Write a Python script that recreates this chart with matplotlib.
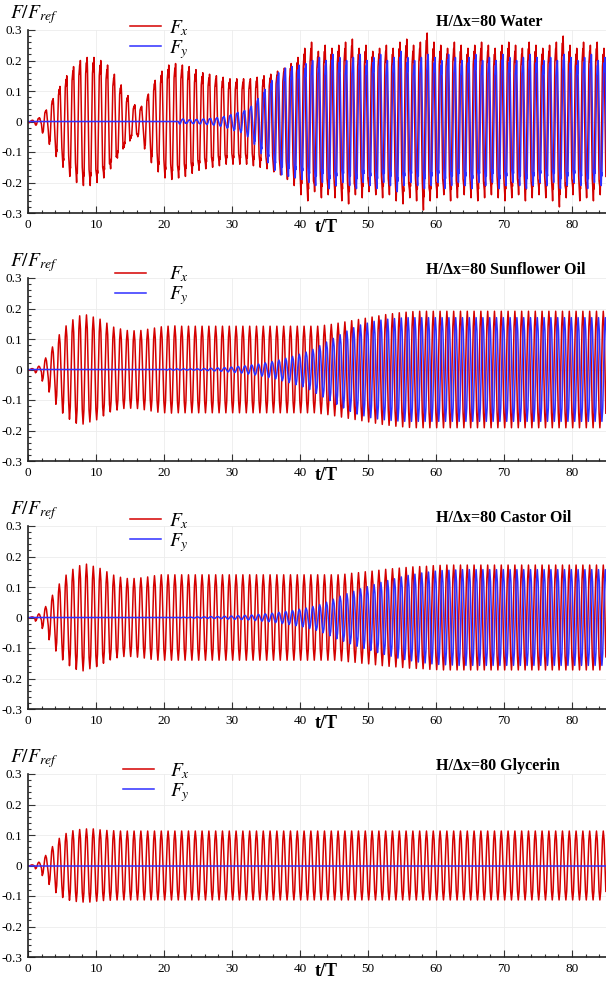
import numpy as np
import matplotlib
import matplotlib.pyplot as plt
from matplotlib.ticker import MultipleLocator, FixedLocator

matplotlib.use('agg')
plt.rcParams['font.family'] = ['Liberation Serif', 'DejaVu Serif']
plt.rcParams['mathtext.fontset'] = 'stix'
plt.rcParams['axes.unicode_minus'] = False

# peak amplitude of every forcing cycle (t/T = 0..84)
WATER_FX = ([0.004, 0.012, 0.038, 0.075, 0.115, 0.15, 0.18, 0.2, 0.21, 0.21, 0.2, 0.185,
             0.155, 0.12, 0.085, 0.055, 0.05, 0.09, 0.135, 0.165, 0.185,
             0.19, 0.185, 0.18, 0.17, 0.16, 0.155, 0.15, 0.145, 0.14,
             0.14, 0.14, 0.14, 0.145, 0.15, 0.155,
             0.165, 0.175, 0.19, 0.21,
             0.24, 0.26, 0.23, 0.25, 0.24, 0.25, 0.26, 0.27, 0.24, 0.25,
             0.23, 0.24, 0.25, 0.24, 0.26, 0.27, 0.25, 0.26, 0.29, 0.26,
             0.25, 0.24, 0.26, 0.25, 0.24, 0.25, 0.26, 0.25, 0.24, 0.25,
             0.26, 0.25, 0.24, 0.26, 0.25, 0.24, 0.25, 0.26, 0.28, 0.25,
             0.24, 0.26, 0.25, 0.26, 0.24])
WATER_FY = ([0.0] * 22 +
            [0.008, 0.006, 0.007, 0.008, 0.01, 0.012, 0.016, 0.022, 0.03, 0.036,
             0.05, 0.075, 0.105, 0.135, 0.16, 0.175, 0.18, 0.185] +
            [0.19, 0.2, 0.21, 0.2, 0.22, 0.21, 0.2, 0.21, 0.22, 0.2,
             0.21, 0.22, 0.2, 0.21, 0.23, 0.21, 0.2, 0.21, 0.22, 0.21,
             0.2, 0.22, 0.21, 0.2, 0.21, 0.22, 0.2, 0.21, 0.2, 0.22,
             0.21, 0.2, 0.21, 0.22, 0.21, 0.2, 0.21, 0.2, 0.22, 0.21,
             0.2, 0.21, 0.22, 0.2, 0.21])

SUNFLOWER_FX = ([0.003, 0.011, 0.038, 0.074, 0.114, 0.143, 0.163, 0.176, 0.179, 0.172,
                 0.165, 0.152, 0.139, 0.133, 0.128, 0.127, 0.128, 0.132, 0.136, 0.14,
                 0.142, 0.143] +
                [0.142] * 21 +
                [0.145, 0.148, 0.152, 0.156, 0.16, 0.164, 0.168, 0.172, 0.176, 0.18,
                 0.183, 0.186, 0.188, 0.19] +
                [0.191] * 28)
SUNFLOWER_FY = ([0.0] * 20 + [0.002] * 5 +
                [0.003, 0.004, 0.005, 0.006, 0.008, 0.01, 0.012, 0.015, 0.018, 0.022,
                 0.026, 0.031, 0.037, 0.043, 0.05, 0.057, 0.066, 0.078, 0.09, 0.102,
                 0.114, 0.126, 0.137, 0.146, 0.152, 0.158, 0.162, 0.165, 0.167, 0.169] +
                [0.17] * 30)

CASTOR_FX = ([0.002, 0.012, 0.036, 0.073, 0.11, 0.139, 0.158, 0.17, 0.175, 0.168,
              0.161, 0.15, 0.139, 0.132, 0.128, 0.128, 0.13, 0.133, 0.137, 0.14] +
             [0.14] * 26 +
             [0.142, 0.145, 0.147, 0.15, 0.152, 0.155, 0.158, 0.16, 0.162, 0.164,
              0.166, 0.167, 0.168, 0.17, 0.171] +
             [0.172] * 24)
CASTOR_FY = ([0.0] * 22 +
             [0.001, 0.001, 0.002, 0.002, 0.003, 0.003, 0.004, 0.005, 0.006, 0.007,
              0.008, 0.01, 0.012, 0.014, 0.017, 0.02, 0.023, 0.027, 0.031, 0.036,
              0.042, 0.05, 0.06, 0.07, 0.078, 0.086, 0.094, 0.101, 0.108, 0.115,
              0.121, 0.127, 0.133, 0.138, 0.142, 0.146, 0.149, 0.152, 0.154, 0.155,
              0.156] +
             [0.157] * 22)

GLYCERIN_FX = ([0.002, 0.011, 0.033, 0.062, 0.089, 0.105, 0.114, 0.118, 0.12, 0.12,
                0.117, 0.115, 0.114] + [0.113] * 72)
GLYCERIN_FY = [0.0] * 85

# shape of one cycle (phase within the period, value / amplitude)
SMOOTH_PHASE = [0.0, 0.12, 0.38, 0.5, 0.62, 0.88]
SMOOTH_VALUE = [-1.0, -0.75, 0.75, 1.0, 0.75, -0.75]
WATER_PHASE = [0.0, 0.05, 0.1, 0.15, 0.38, 0.5, 0.55, 0.6, 0.65, 0.88]
WATER_VALUE = [-0.9, -1.0, -0.8, -0.85, 0.75, 0.92, 0.78, 1.0, 0.8, -0.75]

FX_START = 0.1
FY_LAG = [0.15, 0.3, 0.3, 0.3]

TITLES = ['H/Δx=80 Water', 'H/Δx=80 Sunflower Oil', 'H/Δx=80 Castor Oil', 'H/Δx=80 Glycerin']
XTICKS = [0, 10, 20, 30, 40, 50, 60, 70, 80]
YTICKS = [-0.3, -0.2, -0.1, 0, 0.1, 0.2, 0.3]
YTICKLABELS = ['-0.3', '-0.2', '-0.1', '0', '0.1', '0.2', '0.3']


def signal(amp, start, phase, value):
    t = [0.0]
    f = [0.0]
    for k, a in enumerate(amp):
        for p, s in zip(phase, value):
            t.append(start + k + p)
            f.append(a * s)
    return np.array(t), np.array(f)


W, H = 606, 985
fig = plt.figure(figsize=(W / 100, H / 100), dpi=100)

panels = [(WATER_FX, WATER_FY), (SUNFLOWER_FX, SUNFLOWER_FY),
          (CASTOR_FX, CASTOR_FY), (GLYCERIN_FX, GLYCERIN_FY)]
tops = [30, 278, 526, 774]
legend_x = [130, 115, 130, 123]
legend_pad = [0.4, 1.2, 0.4, 0.8]
legend_y = [39.4, 286, 532.5, 782.5]
title_x = [436, 426, 436, 436]

for i, (fx, fy) in enumerate(panels):
    top = tops[i]
    ax = fig.add_axes([28 / W, 1 - (top + 183) / H, 578 / W, 183 / H])
    if i == 0:
        ph, va = WATER_PHASE, WATER_VALUE
    else:
        ph, va = SMOOTH_PHASE, SMOOTH_VALUE
    tx, vx = signal(fx, FX_START, ph, va)
    ty, vy = signal(fy, FX_START + FY_LAG[i], ph, va)
    ax.plot(tx, vx, color='#d40000', lw=1.1, label='$F_x$')
    ax.plot(ty, vy, color='#2f2fff', lw=1.1, label='$F_y$')

    ax.set_xlim(0, 85)
    ax.set_ylim(-0.3, 0.3)
    ax.xaxis.set_major_locator(FixedLocator(XTICKS))
    ax.xaxis.set_minor_locator(MultipleLocator(2))
    ax.set_yticks(YTICKS)
    ax.set_yticklabels(YTICKLABELS)
    ax.yaxis.set_minor_locator(MultipleLocator(0.02))
    ax.tick_params(which='both', direction='in', top=False, right=False,
                   labelsize=9.5, width=0.8, color='#333333')
    ax.tick_params(which='major', length=5, pad=4)
    ax.tick_params(which='minor', length=2.5)
    ax.grid(True, which='major', color='#ececec', lw=0.6)
    ax.set_axisbelow(True)
    for s in ['top', 'right']:
        ax.spines[s].set_visible(False)
    for s in ['left', 'bottom']:
        ax.spines[s].set_linewidth(1.2)
        ax.spines[s].set_color('#222222')

    ax.set_xlabel('t/T', fontsize=13, fontweight='bold', va='top')
    ax.xaxis.set_label_coords((326 - 28) / 578, -0.035)

    ax.annotate('$F/F_{ref}$', xy=(0, 1), xycoords='axes fraction',
                xytext=(-18, 15), textcoords='offset pixels',
                fontsize=14, va='center', ha='left')

    ax.text((title_x[i] - 28) / 578, 1 + 8.5 / 183, TITLES[i], transform=ax.transAxes,
            fontsize=11.5, fontweight='bold', va='center', ha='left')

    ax.legend(loc='center left',
              bbox_to_anchor=((legend_x[i] - 28) / 578, 1 - (legend_y[i] - top) / 183),
              frameon=False, fontsize=14, handlelength=1.6,
              handletextpad=legend_pad[i], labelspacing=0.0,
              borderpad=0, borderaxespad=0)

fig.savefig('out.png', dpi=100)
